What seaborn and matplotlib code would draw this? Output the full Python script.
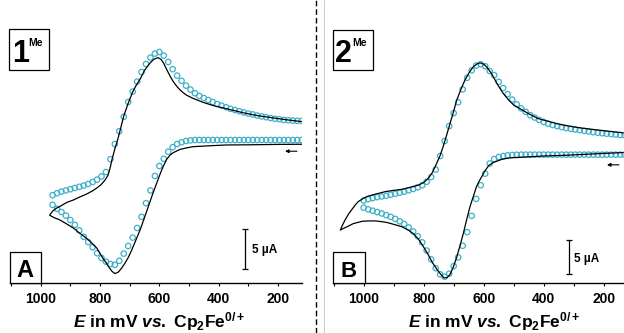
import numpy as np
import pandas as pd
import seaborn as sns
import matplotlib
matplotlib.use('Agg')
import matplotlib.pyplot as plt
from matplotlib.patches import Rectangle
from matplotlib.lines import Line2D

# ---- panel A (1Me): simulated CV (black line), closed loop 120 -> 970 -> 120 mV
A_LINE_MV = [120, 200, 300, 373, 420, 460, 486, 510, 530, 553, 564, 575, 587, 598, 609, 623, 637, 651, 665, 679,
             693, 705, 716, 727, 738, 750, 760, 770, 780, 790, 811, 830, 845, 870, 890, 912, 935, 955, 970,
             960, 946, 935, 912, 890, 867, 845, 825, 811, 797, 783, 773, 766, 760, 750, 740, 733, 720, 705, 690,
             677, 665, 650, 632, 618, 605, 595, 587, 575, 564, 553, 541, 530, 519, 508, 497, 486, 469, 452, 435,
             418, 395, 373, 345, 317, 290, 261, 232, 204, 165, 120]
A_LINE_I = [-0.03, -0.05, -0.1, -0.12, -0.2, -0.28, -0.33, -0.5, -0.67, -1.08, -1.4, -1.9, -2.8, -3.8, -4.9, -6.3,
            -7.8, -9.3, -10.75, -12.0, -13.25, -14.2, -14.9, -15.5, -16.0, -16.2, -15.9, -15.4, -14.8, -14.3, -13.0,
            -12.3, -11.8, -11.1, -10.5, -10.0, -9.5, -9.2, -8.9,
            -8.4, -8.0, -7.8, -7.3, -7.0, -6.6, -6.25, -5.85, -5.5, -5.1, -4.5, -3.9, -3.0, -2.0, -0.6, 0.6, 1.6,
            3.5, 5.1, 6.5, 7.4, 8.1, 9.2, 10.1, 10.6, 10.8, 10.6, 10.2, 9.3, 8.5, 7.8, 7.2, 6.75, 6.4, 6.1, 5.9,
            5.7, 5.45, 5.2, 5.0, 4.8, 4.6, 4.4, 4.15, 3.9, 3.7, 3.5, 3.35, 3.2, 3.0, 2.8]

# panel A: experimental points (open circles)
A_PTS_MV = [960, 945, 930, 915, 900, 885, 870, 855, 840, 825, 810, 795, 780, 765, 750, 735, 720, 705, 690, 675,
            660, 645, 630, 615, 600, 585, 570, 555, 540, 525, 510, 495, 480, 465, 450, 435, 420, 405, 390, 375,
            360, 345, 330, 315, 300, 285, 270, 255, 240, 225, 210, 195, 180, 165, 150, 135, 120]
A_PTS_UP = [-6.4, -6.15, -5.95, -5.8, -5.65, -5.5, -5.35, -5.2, -5.0, -4.75, -4.45, -4.05, -3.5, -1.9, 0.0, 1.6,
            3.4, 5.25, 6.55, 7.8, 9.0, 10.0, 10.8, 11.3, 11.5, 11.05, 10.25, 9.35, 8.55, 7.9, 7.3, 6.8, 6.35, 6.0,
            5.75, 5.5, 5.25, 5.0, 4.8, 4.6, 4.4, 4.25, 4.1, 3.95, 3.8, 3.7, 3.55, 3.45, 3.35, 3.25, 3.15, 3.1, 3.0,
            2.97, 2.93, 2.9, 2.88]
A_PTS_LOW = [-7.6, -8.1, -8.5, -8.95, -9.5, -10.1, -10.8, -11.6, -12.25, -12.9, -13.65, -14.25, -14.7, -15.0,
             -15.1, -14.6, -13.7, -12.75, -11.7, -10.5, -9.1, -7.4, -5.8, -4.0, -2.75, -1.85, -0.96, -0.4, 0.0,
             0.22, 0.38, 0.45, 0.5, 0.5, 0.5, 0.5, 0.5, 0.5, 0.5, 0.5, 0.5, 0.5, 0.5, 0.5, 0.5, 0.5, 0.5, 0.5, 0.5,
             0.5, 0.5, 0.5, 0.5, 0.5, 0.5, 0.5, 0.5]

# ---- panel B (2Me): simulated CV, closed loop 135 -> 1078 -> 135 mV
B_LINE_MV = [135, 200, 260, 330, 400, 440, 480, 506, 523, 540, 555, 568, 583, 596, 606, 615, 624, 635, 646, 657,
             668, 679, 690, 701, 712, 722, 733, 745, 757, 772, 785, 800, 818, 835, 851, 873, 896, 920, 940, 962,
             985, 1005, 1018, 1035, 1051, 1065, 1078,
             1070, 1062, 1050, 1040, 1028, 1018, 1000, 985, 960, 929, 900, 873, 845, 818, 800, 785, 772, 762, 752,
             745, 735, 724, 712, 700, 690, 676, 662, 648, 635, 622, 612, 600, 590, 575, 560, 551, 535, 518, 500,
             473, 445, 418, 385, 351, 310, 273, 235, 196, 165, 135]
B_LINE_I = [0.5, 0.38, 0.25, 0.1, 0.0, -0.1, -0.2, -0.25, -0.35, -0.5, -0.75, -0.95, -1.4, -2.2, -3.0, -3.7, -4.5,
            -6.0, -7.5, -9.4, -11.4, -13.2, -14.9, -16.3, -17.4, -17.9, -17.9, -17.3, -16.6, -15.6, -14.5, -13.4,
            -12.2, -11.4, -10.9, -10.4, -10.1, -9.8, -9.65, -9.55, -9.55, -9.6, -9.75, -9.95, -10.3, -10.6, -10.9,
            -10.1, -9.4, -8.5, -7.9, -7.2, -6.7, -6.2, -5.9, -5.6, -5.25, -5.05, -4.9, -4.6, -4.3, -3.9, -3.3,
            -2.5, -1.6, -0.6, 0.1, 1.4, 3.0, 4.8, 6.6, 8.2, 9.8, 11.2, 12.3, 13.1, 13.55, 13.7, 13.5, 13.1, 12.2,
            11.0, 10.3, 9.2, 8.3, 7.5, 6.8, 6.1, 5.5, 5.1, 4.7, 4.35, 4.1, 3.9, 3.7, 3.55, 3.4]

B_PTS_MV = [1000, 985, 970, 955, 940, 925, 910, 895, 880, 865, 850, 835, 820, 805, 790, 775, 760, 745, 730, 715,
            700, 685, 670, 655, 640, 625, 610, 595, 580, 565, 550, 535, 520, 505, 490, 475, 460, 445, 430, 415,
            400, 385, 370, 355, 340, 325, 310, 295, 280, 265, 250, 235, 220, 205, 190, 175, 160, 145, 130]
B_PTS_UP = [-6.55, -6.35, -6.2, -6.05, -5.95, -5.85, -5.7, -5.55, -5.4, -5.25, -5.05, -4.85, -4.6, -4.3, -3.8,
            -3.1, -2.0, 0.0, 2.2, 4.4, 6.3, 7.9, 9.8, 11.5, 12.6, 13.3, 13.5, 13.2, 12.5, 11.9, 10.9, 10.0, 9.1,
            8.3, 7.6, 7.0, 6.5, 6.0, 5.65, 5.3, 5.0, 4.75, 4.55, 4.4, 4.25, 4.1, 4.0, 3.9, 3.8, 3.7, 3.6, 3.5,
            3.42, 3.35, 3.28, 3.22, 3.16, 3.1, 3.05]
B_PTS_LOW = [-7.6, -7.85, -8.05, -8.25, -8.45, -8.7, -8.95, -9.25, -9.6, -10.0, -10.5, -11.1, -11.8, -12.7, -13.9,
             -15.2, -16.5, -17.4, -17.75, -17.3, -16.2, -14.9, -13.2, -11.2, -8.8, -6.3, -4.3, -2.6, -1.1, -0.45,
             -0.15, 0.0, 0.1, 0.15, 0.18, 0.2, 0.2, 0.2, 0.2, 0.2, 0.2, 0.2, 0.2, 0.2, 0.2, 0.2, 0.2, 0.2, 0.2,
             0.2, 0.2, 0.2, 0.2, 0.2, 0.2, 0.2, 0.2, 0.2, 0.2]

TICKS = [1000, 800, 600, 400, 200]
MINOR = [1100, 900, 700, 500, 300, 100]
XLABEL = r'$\mathit{E}$ in mV $\mathit{vs.}$ Cp$_2$Fe$^{0/+}$'
CYAN = '#3cb0c9'

W, H = 624, 333

sns.set_style('white')
plt.rcParams['font.family'] = ['Liberation Sans', 'DejaVu Sans']
plt.rcParams['text.color'] = 'black'
plt.rcParams['xtick.color'] = 'black'
plt.rcParams['xtick.labelcolor'] = 'black'
plt.rcParams['mathtext.fontset'] = 'custom'
plt.rcParams['mathtext.rm'] = 'Liberation Sans:bold'
plt.rcParams['mathtext.it'] = 'Liberation Sans:italic:bold'
plt.rcParams['mathtext.bf'] = 'Liberation Sans:bold'
plt.rcParams['mathtext.default'] = 'rm'


def px_rect(l, t, r, b):
    return [l / W, 1 - b / H, (r - l) / W, (b - t) / H]


def draw_panel(ax, line_mv, line_i, pts_mv, pts_up, pts_low):
    for vals in (pts_up, pts_low):
        sns.scatterplot(x=pts_mv, y=vals, ax=ax, marker='o', s=15, linewidth=0.9, zorder=2, legend=False)
        pts = ax.collections[-1]
        pts.set_facecolor('none')
        pts.set_edgecolor(CYAN)
    sns.lineplot(x=line_mv, y=line_i, ax=ax, sort=False, estimator=None, color='black', lw=0.9, zorder=3)
    for s in ['left', 'right', 'top']:
        ax.spines[s].set_visible(False)
    ax.spines['bottom'].set_linewidth(1.0)
    ax.spines['bottom'].set_color('black')
    ax.set_yticks([])
    ax.set_xticks(TICKS)
    ax.set_xticks(MINOR, minor=True)
    ax.tick_params(axis='x', which='both', direction='out', length=2.5, width=0.8, color='black',
                   labelcolor='black', labelsize=10, pad=4, bottom=True)
    for lab in ax.get_xticklabels():
        lab.set_fontweight('bold')
    ax.set_xlabel('')
    ax.set_ylabel('')
    ax.patch.set_alpha(0)


fig = plt.figure(figsize=(W / 100, H / 100), dpi=100)

axA = fig.add_axes(px_rect(10, 0, 302, 283.3))
draw_panel(axA, A_LINE_MV, A_LINE_I, A_PTS_MV, A_PTS_UP, A_PTS_LOW)
axA.set_xlim(1103.5, 119)
axA.set_ylim(-17.41, 18)

axB = fig.add_axes(px_rect(332.7, 0, 624, 283.3))
draw_panel(axB, B_LINE_MV, B_LINE_I, B_PTS_MV, B_PTS_UP, B_PTS_LOW)
axB.set_xlim(1103.3, 132.3)
axB.set_ylim(-18.72, 22.94)

# 5 uA scale bars
axA.errorbar([311], [-13.1], yerr=2.5, color='black', lw=0.9, capsize=2.2, capthick=0.9)
axA.text(289, -13.3, '5 µA', ha='left', va='center', fontsize=8.5, fontweight='bold')
axB.errorbar([317], [-14.85], yerr=2.5, color='black', lw=0.9, capsize=2.2, capthick=0.9)
axB.text(300, -15.2, '5 µA', ha='left', va='center', fontsize=8.5, fontweight='bold')

# scan direction arrows
arrow = dict(arrowstyle='-|>', color='black', lw=0.8, mutation_scale=5, shrinkA=0, shrinkB=0)
axA.annotate('', xy=(176, -0.9), xytext=(136, -0.9), arrowprops=arrow)
axB.annotate('', xy=(189, -1.3), xytext=(149, -1.3), arrowprops=arrow)


def box(l, t, r, b):
    fig.add_artist(Rectangle((l / W, 1 - b / H), (r - l) / W, (b - t) / H, transform=fig.transFigure,
                             facecolor='white', edgecolor='black', lw=0.9, zorder=5))


def ftext(x, y, s, **kw):
    fig.text(x / W, 1 - y / H, s, zorder=6, fontweight='bold', color='black', **kw)


box(9.3, 29.3, 49.3, 70)
ftext(12, 62, '1', fontsize=22, ha='left', va='baseline')
ftext(28, 46.5, 'Me', fontsize=7.5, ha='left', va='baseline')
box(332.7, 30, 372.7, 70)
ftext(335.5, 62, '2', fontsize=22, ha='left', va='baseline')
ftext(352, 46.5, 'Me', fontsize=7.5, ha='left', va='baseline')

box(10, 252, 40.7, 283.3)
ftext(24.5, 277, 'A', fontsize=17, ha='center', va='baseline')
box(332.7, 251.7, 364.7, 283.3)
ftext(348.5, 277, 'B', fontsize=16, ha='center', va='baseline')

ftext(159, 327, XLABEL, fontsize=12.5, ha='center', va='baseline')
ftext(494, 327, XLABEL, fontsize=12.5, ha='center', va='baseline')

# separators between the panels
fig.add_artist(Line2D([316 / W] * 2, [0, 1], transform=fig.transFigure, color='black', lw=1.0,
                      ls=(0, (4, 2.2))))
fig.add_artist(Line2D([323.7 / W] * 2, [0, 1], transform=fig.transFigure, color='#c4c4c4', lw=0.6))

fig.savefig('out.png', dpi=100, facecolor='white')
